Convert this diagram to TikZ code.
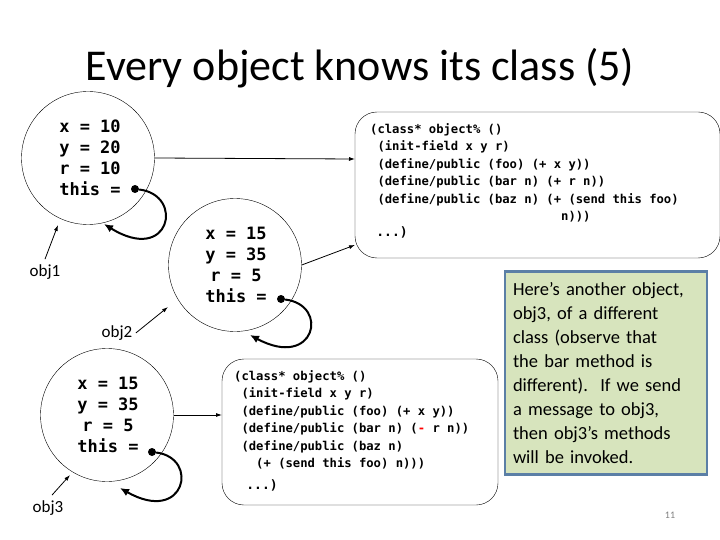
\documentclass[tikz,border=0pt]{standalone}
\usepackage{fontspec}
\setmainfont{Carlito}
\setmonofont{DejaVu Sans Mono}
\usetikzlibrary{positioning,arrows.meta}
\definecolor{notefill}{HTML}{D7E4BD}
\definecolor{noteline}{HTML}{5B7FA6}
\tikzset{
  objcirc/.style={draw,thin,circle,minimum size=133pt,inner sep=0pt},
  objtext/.style={font=\ttfamily\bfseries\fontsize{17}{21}\selectfont,align=left},
  classbox/.style={draw,rounded corners=22pt},
  codetext/.style={font=\ttfamily\bfseries\fontsize{12.2}{17.5}\selectfont,align=left,anchor=north west,inner sep=0pt},
  ptr/.style={-{Latex[length=6pt,width=4pt]},thick},
  selfptr/.style={-{Latex[length=9pt,width=8pt]},line width=2pt},
  dot/.style={circle,fill,inner sep=0pt,minimum size=8pt}
}
\begin{document}
\begin{tikzpicture}[x=1pt,y=-1pt]
\useasboundingbox (0,0) rectangle (720,540);
\node (title) at (360,68) {\fontsize{44}{48}\selectfont Every object knows its class (5)};
% objects
\node[objcirc] (obj1) at (88,158) {};
\node[objtext] (obj1v) at (90,158) {x = 10\\y = 20\\r = 10\\this =};
\node[objcirc] (obj2) at (235,265) {};
\node[objtext,align=center] (obj2v) at (236,265) {x = 15\\y = 35\\r = 5\\this =};
\node[objcirc] (obj3) at (107,415) {};
\node[objtext,align=center] (obj3v) at (108,415) {x = 15\\y = 35\\r = 5\\this =};
\node[dot] (dot1) at (135,189) {};
\node[dot] (dot2) at (281,299) {};
\node[dot] (dot3) at (152,452) {};
% classes
\draw[classbox] (355,112) rectangle (720,258);
\coordinate (cls1a) at (355,159);
\coordinate (cls1b) at (355,245);
\node[codetext] (code1) at (370,123) {(class* object\% ()\\
\ (init-field x y r)\\
\ (define/public (foo) (+ x y))\\
\ (define/public (bar n) (+ r n))\\
\ (define/public (baz n) (+ (send this foo)\\
\ \ \ \ \ \ \ \ \ \ \ \ \ \ \ \ \ \ \ \ \ \ \ \ \ \ n)))};
\node[font=\ttfamily\bfseries\fontsize{13}{17}\selectfont] (dots1) at (392,232) {...)};
\draw[classbox] (222,359) rectangle (498,505);
\coordinate (cls2) at (222,415);
\node[codetext] (code2) at (234,370) {(class* object\% ()\\
\ (init-field x y r)\\
\ (define/public (foo) (+ x y))\\
\ (define/public (bar n) ({\color{red}-} r n))\\
\ (define/public (baz n)\\
\ \ \ (+ (send this foo) n)))};
\node[font=\ttfamily\bfseries\fontsize{13}{17}\selectfont] (dots2) at (262,485) {...)};
% pointers
\draw[ptr] (obj1.east) -- (cls1a);
\draw[ptr] (obj2.east) -- (cls1b);
\draw[ptr] (obj3.east) -- (cls2);
\draw[selfptr] (dot1) .. controls (185,195) and (170,265) .. (104,224);
\draw[selfptr] (dot2) .. controls (330,305) and (315,370) .. (250,335);
\draw[selfptr] (dot3) .. controls (200,458) and (185,525) .. (120,488);
% labels
\node (lab1) at (45,272) {\fontsize{17}{20}\selectfont obj1};
\node (lab2) at (117,333) {\fontsize{17}{20}\selectfont obj2};
\node (lab3) at (48,508) {\fontsize{17}{20}\selectfont obj3};
\draw[ptr] (lab1.north) ++(0,-2) -- (58,225);
\draw[ptr] (lab2.east) -- (168,307);
\draw[ptr] (lab3.north) ++(4,-2) -- (70,475);
% note
\node[draw=noteline,fill=notefill,line width=2.5pt,minimum width=202pt,minimum height=203pt,
  text width=186pt,align=left,inner sep=6pt,font=\fontsize{18.5}{24}\selectfont] (note) at (606,373)
  {Here's another object,\\obj3, of a different\\class (observe that\\the bar method is\\different).\ \ If we send\\a message to obj3,\\then obj3's methods\\will be invoked.};
\node[gray,font=\fontsize{10}{12}\selectfont] (pg) at (670,515) {11};
\end{tikzpicture}
\end{document}
